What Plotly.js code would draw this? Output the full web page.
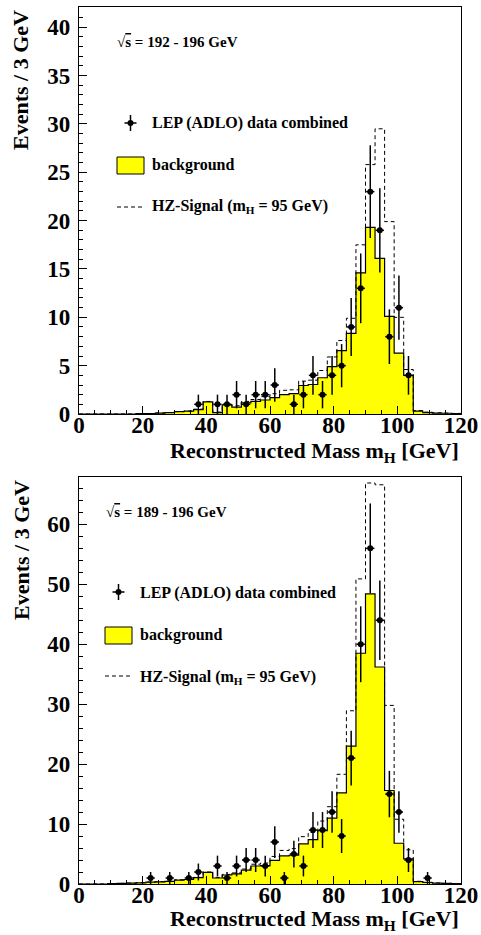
<!DOCTYPE html>
<html>
<head>
<meta charset="utf-8">
<script src="https://cdn.plot.ly/plotly-3.0.1.min.js"></script>
<style>html,body{margin:0;padding:0;background:#fff}</style>
</head>
<body>
<div id="chart" style="width:481px;height:935px"></div>
<script>
// Histogram bin edges (3 GeV bins from 0 to 120 GeV)
const binEdges = [0,3,6,9,12,15,18,21,24,27,30,33,36,39,42,45,48,51,54,57,60,
                  63,66,69,72,75,78,81,84,87,90,93,96,99,102,105,108,111,114,117,120];

// sqrt(s) = 192 - 196 GeV
const bg192  = [0,0,0,0,0,0,0.05,0.05,0.1,0.15,0.25,0.3,0.45,1.25,0.15,0.95,0.72,1.15,1.3,1.45,
                1.7,2.0,2.1,2.95,3.05,3.75,4.9,6.55,8.35,14.6,19.3,16.1,10.1,6.3,4.0,0.3,0.15,0.1,0.08,0.05];
const sig192 = [0,0,0,0,0,0,0.05,0.05,0.1,0.15,0.25,0.3,0.5,1.3,0.2,1.0,0.85,1.3,1.5,1.8,
                2.1,2.45,2.5,3.4,3.5,4.5,5.9,7.6,9.9,17.5,25.8,29.5,19.9,10.0,4.6,0.35,0.2,0.12,0.09,0.06];
const dataMass192  = [37.5,43.5,46.5,49.5,52.5,55.5,58.5,61.5,67.5,70.5,73.5,76.5,79.5,82.5,85.5,88.5,91.5,94.5,97.5,100.5,103.5];
const dataCount192 = [1,1,1,2,1,2,2,3,1,2,4,2,4,5,9,13,23,19,8,11,4];

// sqrt(s) = 189 - 196 GeV
const bg189  = [0,0,0,0.05,0.1,0.15,0.2,0.3,0.35,0.45,0.65,0.75,1.05,1.95,1.0,1.5,1.7,2.3,3.0,3.05,
                3.95,4.7,4.8,6.7,7.4,8.9,11.0,15.2,23.0,38.5,48.4,36.2,15.6,6.8,4.2,0.4,0.25,0.15,0.1,0.05];
const sig189 = [0,0,0,0.05,0.1,0.15,0.22,0.32,0.38,0.5,0.7,0.8,1.1,2.0,1.1,1.6,1.85,2.5,3.3,3.5,
                4.6,5.6,5.9,7.9,8.6,10.5,12.9,18.3,28.9,50.9,66.9,66.6,29.8,10.8,5.7,0.45,0.28,0.17,0.11,0.06];
const dataMass189  = [22.5,28.5,34.5,37.5,43.5,46.5,49.5,52.5,55.5,58.5,61.5,64.5,67.5,70.5,73.5,76.5,79.5,82.5,85.5,88.5,91.5,94.5,97.5,100.5,103.5,109.5];
const dataCount189 = [1,1,1,2,3,1,3,4,4,3,7,1,5,3,9,9,12,8,21,40,56,44,15,12,4,1];

const FONT = 'Liberation Serif, Times New Roman, Times, serif';

// step-histogram y values: repeat last bin so the 'hv' line closes at 120
function stepY(v) { return v.concat([v[v.length - 1]]); }

function panelTraces(bg, sig, mass, count, xa, ya) {
  return [
    { type: 'scatter', mode: 'lines', x: binEdges, y: stepY(bg), xaxis: xa, yaxis: ya,
      line: { shape: 'hv', color: '#000', width: 1.2 }, fill: 'tozeroy', fillcolor: '#ffff00',
      hoverinfo: 'skip' },
    { type: 'scatter', mode: 'lines', x: binEdges, y: stepY(sig), xaxis: xa, yaxis: ya,
      line: { shape: 'hv', color: '#000', width: 1, dash: '4px,3px' }, hoverinfo: 'skip' },
    { type: 'scatter', mode: 'markers', x: mass, y: count, xaxis: xa, yaxis: ya,
      marker: { color: '#000', size: 6 },
      error_y: { type: 'data', array: count.map(Math.sqrt), color: '#000', thickness: 1.5, width: 0 },
      error_x: { type: 'constant', value: 1.3, color: '#000', thickness: 1.5, width: 0 } }
  ];
}

const traces = [].concat(
  panelTraces(bg192, sig192, dataMass192, dataCount192, 'x', 'y'),
  panelTraces(bg189, sig189, dataMass189, dataCount189, 'x2', 'y2')
);

// page pixel -> paper coordinates (plot area: x 79..461, y 7..884)
const L = 79, R = 461, T = 7, B = 884;
const px = x => (x - L) / (R - L);
const py = y => (B - y) / (B - T);

const tickFont = { family: FONT, size: 23, color: '#000', weight: 700 };
function xAxis(anchor) {
  return { anchor: anchor, domain: [0, 1], range: [0, 120], tick0: 0, dtick: 20,
    ticks: 'inside', ticklen: 8, tickwidth: 1, tickcolor: '#000',
    minor: { dtick: 5, ticks: 'inside', ticklen: 4, tickwidth: 1, tickcolor: '#000', showgrid: false },
    showline: true, mirror: true, linecolor: '#000', linewidth: 1.2,
    showgrid: false, zeroline: false, tickfont: tickFont,
    ticklabelposition: 'outside', ticklabelstandoff: -10 };
}
function yAxis(anchor, domain, top, major, minor) {
  return { anchor: anchor, domain: domain, range: [0, top], tick0: 0, dtick: major,
    ticks: 'inside', ticklen: 8, tickwidth: 1, tickcolor: '#000',
    minor: { dtick: minor, ticks: 'inside', ticklen: 4, tickwidth: 1, tickcolor: '#000', showgrid: false },
    showline: true, mirror: true, linecolor: '#000', linewidth: 1.2,
    showgrid: false, zeroline: false, tickfont: tickFont, ticklabelstandoff: 3 };
}

function label(text, x, y, size, extra) {
  return Object.assign({ text: text, xref: 'paper', yref: 'paper', x: px(x), y: py(y),
    xanchor: 'left', yanchor: 'middle', showarrow: false,
    font: { family: FONT, size: size, color: '#000', weight: 700 } }, extra || {});
}

const ROOT_S = '√<span style="text-decoration:overline">s</span>';

const annotations = [
  // axis titles
  label('Reconstructed Mass m<sub>H</sub> [GeV]', 461, 452, 22, { xanchor: 'right' }),
  label('Reconstructed Mass m<sub>H</sub> [GeV]', 461, 920, 22, { xanchor: 'right' }),
  label('Events / 3 GeV', 21, 8, 22, { xanchor: 'center', yanchor: 'top', textangle: -90 }),
  label('Events / 3 GeV', 21, 478, 22, { xanchor: 'center', yanchor: 'top', textangle: -90 }),
  // upper panel key
  label(ROOT_S + ' = 192 - 196 GeV', 115, 42, 15),
  label('LEP (ADLO) data combined', 150, 123, 16),
  label('background', 150, 165, 16),
  label('HZ-Signal (m<sub>H</sub> = 95 GeV)', 150, 207, 16),
  // lower panel key
  label(ROOT_S + ' = 189 - 196 GeV', 104, 512, 15),
  label('LEP (ADLO) data combined', 138, 593, 16),
  label('background', 138, 635, 16),
  label('HZ-Signal (m<sub>H</sub> = 95 GeV)', 138, 677, 16)
];

function keyShapes(x0, x1, yData, yBox0, yBox1, yDash, xm) {
  return [
    { type: 'line', xref: 'paper', yref: 'paper', x0: px(xm), x1: px(xm), y0: py(yData - 8), y1: py(yData + 8),
      line: { color: '#000', width: 1.5 } },
    { type: 'line', xref: 'paper', yref: 'paper', x0: px(xm - 6), x1: px(xm + 6), y0: py(yData), y1: py(yData),
      line: { color: '#000', width: 1.5 } },
    { type: 'circle', xref: 'paper', yref: 'paper', x0: px(xm - 3), x1: px(xm + 3), y0: py(yData - 3), y1: py(yData + 3),
      fillcolor: '#000', line: { color: '#000', width: 0 } },
    { type: 'rect', xref: 'paper', yref: 'paper', x0: px(x0), x1: px(x1), y0: py(yBox1), y1: py(yBox0),
      fillcolor: '#ffff00', line: { color: '#000', width: 1 } },
    { type: 'line', xref: 'paper', yref: 'paper', x0: px(x0), x1: px(x1), y0: py(yDash), y1: py(yDash),
      line: { color: '#000', width: 1, dash: '4px,3px' } }
  ];
}

const layout = {
  width: 481, height: 935,
  margin: { l: L, r: 481 - R, t: T, b: 935 - B, pad: 0 },
  paper_bgcolor: '#fff', plot_bgcolor: '#fff',
  font: { family: FONT, color: '#000' },
  showlegend: false,
  xaxis: xAxis('y'),
  yaxis: yAxis('x', [py(414), 1], 42.1, 5, 1),
  xaxis2: xAxis('y2'),
  yaxis2: yAxis('x2', [0, py(477)], 67.9, 10, 2),
  annotations: annotations,
  shapes: [].concat(
    keyShapes(117, 144, 123, 157, 174, 207, 130.5),
    keyShapes(105, 132, 592, 627, 644, 676, 118.5)
  )
};

Plotly.newPlot('chart', traces, layout, { displayModeBar: false, staticPlot: true });
</script>
</body>
</html>
